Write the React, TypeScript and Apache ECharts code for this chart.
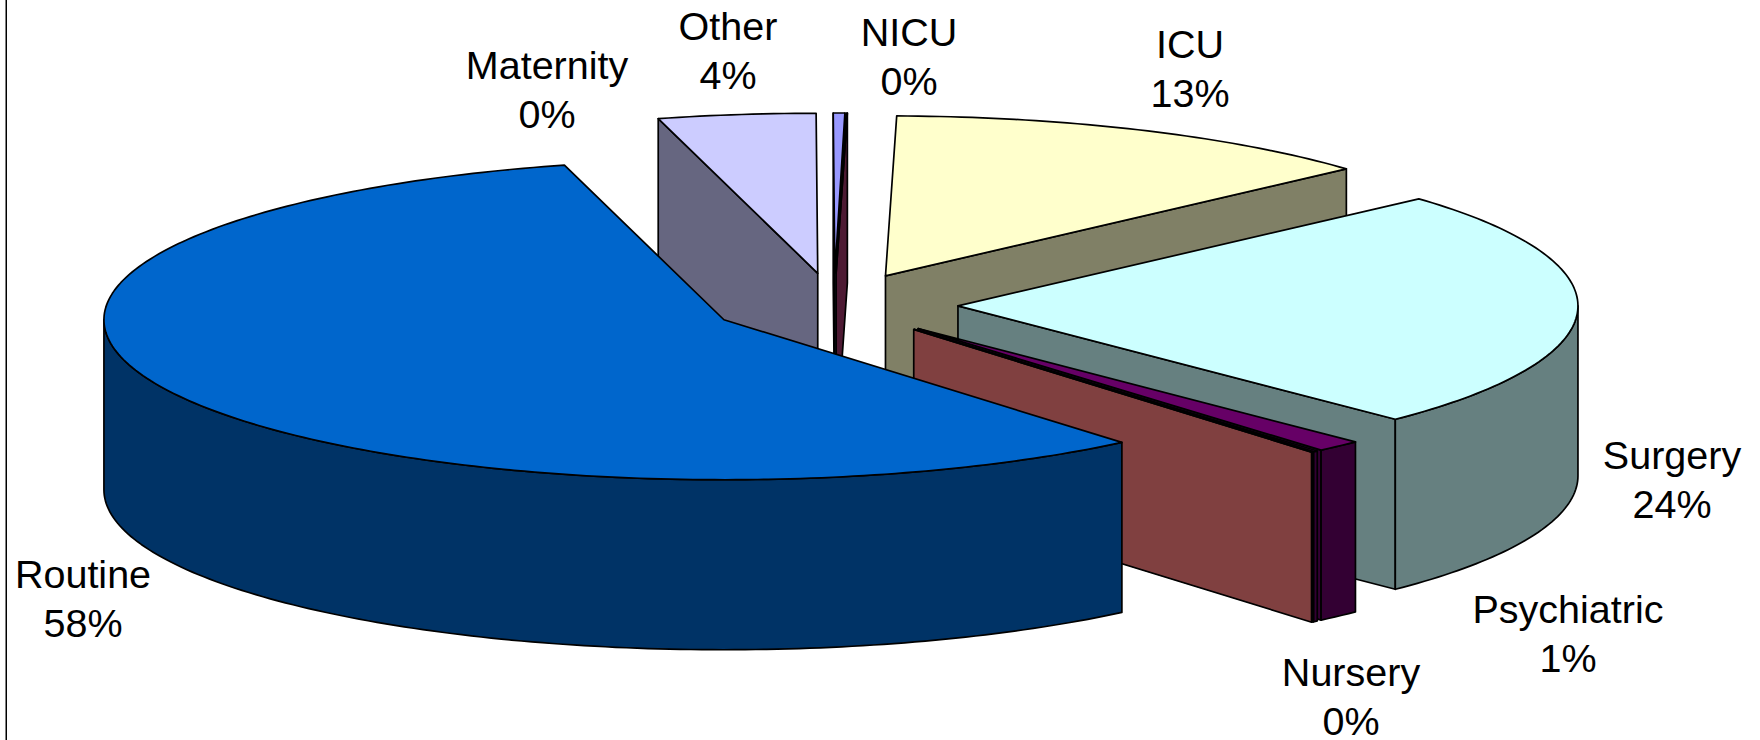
import React, { useEffect, useRef } from "react";
import * as echarts from "echarts";

// Slices, clockwise from the top. Empty names are unlabelled slivers visible in the picture.
const sliceNames = ["NICU", "", "ICU", "Surgery", "Psychiatric", "", "Nursery", "Routine", "Maternity", "Other"];
const sliceValues = [0.3, 0.03, 13.05, 24.2, 1.2, 0.12, 0.05, 56.95, 0, 4.1];
const sliceColors = ["#9999FF", "#993366", "#FFFFCC", "#CCFFFF", "#660066", "#660066", "#FF8080", "#0066CC", "#CCCCFF", "#CCCCFF"];

const labelNames = ["Routine", "Maternity", "Other", "NICU", "ICU", "Surgery", "Psychiatric", "Nursery"];
const labelPercents = ["58%", "0%", "4%", "0%", "13%", "24%", "1%", "0%"];
const labelCentersX = [83, 547, 728, 909, 1190, 1672, 1568, 1351];
const labelCentersY = [598.5, 89, 50, 56, 68.5, 479.5, 633, 696.5];

const START_ANGLE = 269.85;
const CX = 834;
const CY = 305;
const RX = 620;
const RY = 160;
const DEPTH = 170;
const EXPLODE = 124;
const STROKE = 1.7;

const rad = (d: number) => (d * Math.PI) / 180;
const darken = (hex: string) => {
  const n = parseInt(hex.slice(1), 16);
  const c = [(n >> 16) & 255, (n >> 8) & 255, n & 255].map((v) => Math.round(v * 0.5));
  return `rgb(${c[0]},${c[1]},${c[2]})`;
};

const total = sliceValues.reduce((a, b) => a + b, 0);
const spans: { t0: number; t1: number; ax: number; ay: number }[] = [];
{
  let acc = START_ANGLE;
  for (const v of sliceValues) {
    const t0 = acc;
    const t1 = acc + (v / total) * 360;
    const mid = rad((t0 + t1) / 2);
    spans.push({
      t0,
      t1,
      ax: CX + EXPLODE * Math.cos(mid),
      ay: CY + EXPLODE * (RY / RX) * Math.sin(mid),
    });
    acc = t1;
  }
}

const rimPoint = (i: number, t: number, dy = 0): number[] => [
  spans[i].ax + RX * Math.cos(rad(t)),
  spans[i].ay + RY * Math.sin(rad(t)) + dy,
];

const arc = (i: number, a: number, b: number, dy = 0): number[][] => {
  const n = Math.max(2, Math.ceil(Math.abs(b - a)));
  const out: number[][] = [];
  for (let k = 0; k <= n; k++) out.push(rimPoint(i, a + ((b - a) * k) / n, dy));
  return out;
};

// Back to front: a slice whose top face reaches lower on the page is painted later.
const lowestY = (i: number) => Math.max(spans[i].ay, ...arc(i, spans[i].t0, spans[i].t1).map((p) => p[1]));
const paintOrder = sliceValues
  .map((_, i) => i)
  .filter((i) => sliceValues[i] > 0)
  .sort((a, b) => lowestY(a) - lowestY(b));

const renderSlice = (_params: any, api: any) => {
  const i = api.value(0);
  const { t0, t1, ax, ay } = spans[i];
  const top = sliceColors[i];
  const side = darken(top);
  const style = (fill: string) => ({ fill, stroke: "#000", lineWidth: STROKE, lineJoin: "round" });
  const poly = (points: number[][], fill: string) => ({ type: "polygon", shape: { points }, style: style(fill), silent: true });
  const children: any[] = [];
  const wall = (t: number) => {
    const r = rimPoint(i, t);
    const rb = rimPoint(i, t, DEPTH);
    return poly([[ax, ay], r, rb, [ax, ay + DEPTH]], side);
  };
  if (Math.cos(rad(t0)) < 0) children.push(wall(t0));
  if (Math.cos(rad(t1)) > 0) children.push(wall(t1));
  for (const [lo, hi] of [[0, 180], [360, 540]]) {
    const a = Math.max(t0, lo);
    const b = Math.min(t1, hi);
    if (b > a) children.push(poly([...arc(i, a, b), ...arc(i, b, a, DEPTH)], side));
  }
  children.push(poly([[ax, ay], ...arc(i, t0, t1)], top));
  return { type: "group", children };
};

export default function App() {
  const ref = useRef<HTMLDivElement>(null);
  useEffect(() => {
    document.body.style.margin = "0";
    const chart = echarts.init(ref.current!, undefined, { renderer: "svg" });
    chart.setOption({
      animation: false,
      backgroundColor: "#fff",
      series: [
        {
          type: "custom",
          coordinateSystem: "none",
          silent: true,
          clip: false,
          renderItem: renderSlice,
          data: paintOrder.map((i) => ({ name: sliceNames[i], value: [i, sliceValues[i]] })),
        },
      ],
      graphic: [
        { type: "rect", silent: true, shape: { x: 5.5, y: 0, width: 1.5, height: 740 }, style: { fill: "#000" } },
        ...labelNames.map((name, i) => ({
          type: "text",
          silent: true,
          x: labelCentersX[i],
          y: labelCentersY[i],
          z: 10,
          style: {
            text: `${name}\n${labelPercents[i]}`,
            fill: "#000",
            font: '39.5px "Liberation Sans", Arial, sans-serif',
            lineHeight: 49,
            align: "center",
            verticalAlign: "middle",
          },
        })),
      ],
    });
    return () => chart.dispose();
  }, []);
  return <div ref={ref} style={{ width: 1760, height: 740, overflow: "hidden" }} />;
}
